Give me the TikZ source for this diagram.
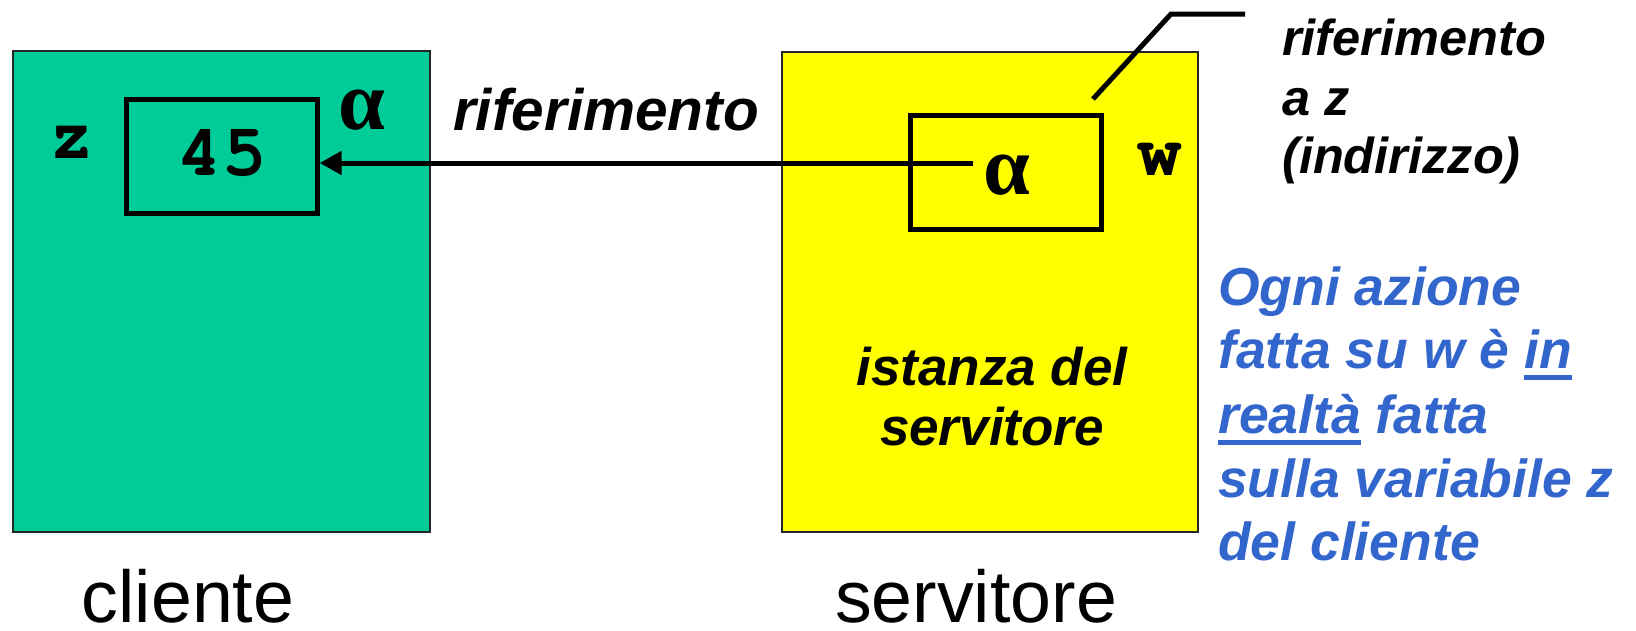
\documentclass[tikz,border=0pt]{standalone}
\usepackage{fontspec}
\setmainfont{Liberation Sans}
\newfontfamily\monofam{texgyrecursor}[Extension=.otf, UprightFont=*-regular, BoldFont=*-bold]
\newfontfamily\greekfam{Liberation Serif}
\usetikzlibrary{arrows.meta}
\definecolor{cgreen}{RGB}{0,204,153}
\definecolor{cyellow}{RGB}{255,255,0}
\definecolor{cblue}{RGB}{51,102,204}
\newcommand\myul[2]{\setbox0\hbox{#2}\rlap{\rule[#1]{\wd0}{5pt}}\box0\relax}
\tikzset{
  area/.style={draw=black!85, line width=2pt, inner sep=0pt},
  cell/.style={draw=black, line width=5pt, minimum width=191pt, minimum height=114pt, inner sep=0pt},
  monolbl/.style={anchor=base, inner sep=0pt, font=\fontsize{74}{80}\selectfont\monofam\bfseries},
  greeklbl/.style={anchor=base, inner sep=0pt, font=\fontsize{84}{90}\selectfont\greekfam\bfseries},
  notelbl/.style={anchor=base west, inner sep=0pt, font=\fontsize{50.5}{59}\selectfont\bfseries\itshape},
  bluelbl/.style={anchor=base west, inner sep=0pt, text=cblue, font=\fontsize{53.5}{64}\selectfont\bfseries\itshape},
  inlbl/.style={anchor=base, inner sep=0pt, font=\fontsize{53}{60}\selectfont\bfseries\itshape},
  caption/.style={anchor=base, inner sep=0pt, font=\fontsize{73.5}{80}\selectfont},
  thick line/.style={line width=5pt}
}
\begin{document}
\begin{tikzpicture}[x=1pt,y=-1pt]
\useasboundingbox (0,0) rectangle (1636,630);
% outer areas
\node[area, fill=cgreen, minimum width=417pt, minimum height=481pt] (clientbox) at (221.5,291.5) {};
\node[area, fill=cyellow, minimum width=416pt, minimum height=480pt] (servbox) at (990,292) {};
% inner cells
\node[cell] (zcell) at (221.7,156.7) {};
\node[cell] (wcell) at (1005.8,172.5) {};
% labels in cells
\node[monolbl] (zname) at (71.5,158) {z};
\node[monolbl] (zval) at (222,175) {45};
\node[monolbl] (wname) at (1160,175) {w};
\node[greeklbl] (zaddr) at (361.5,129) {α};
\node[greeklbl] (wval) at (1006.5,194) {α};
% reference arrow
\coordinate (refstart) at (973,163);
\draw[thick line, -{Triangle[length=22pt,width=23pt]}] (refstart) -- (refstart -| zcell.east);
\node[anchor=base, inner sep=0pt, font=\fontsize{58.5}{60}\selectfont\bfseries\itshape] (reflabel) at (606,130) {riferimento};
% leader line to note
\coordinate (leadA) at (1093,99);
\coordinate (leadB) at (1245,14);
\draw[thick line] (leadA) -- ++(78,-85) -- (leadB);
\node[notelbl] (note1) at (1282,55) {riferimento};
\node[notelbl] (note2) at (1282,115) {a z};
\node[notelbl] (note3) at (1282,173) {(indirizzo)};
% instance text
\node[inlbl] (inst1) at (992,385) {istanza del};
\node[inlbl] (inst2) at (992,445) {servitore};
% blue remark
\node[bluelbl] (blue1) at (1218,305) {Ogni azione};
\node[bluelbl] (blue2) at (1218,368) {fatta su w è \myul{-12pt}{in}};
\node[bluelbl] (blue3) at (1218,433) {\myul{-11.5pt}{realtà} fatta};
\node[bluelbl] (blue4) at (1218,497) {sulla variabile z};
\node[bluelbl] (blue5) at (1218,560) {del cliente};
% captions
\node[caption] (capc) at (188,622) {cliente};
\node[caption] (caps) at (976,622) {servitore};
\end{tikzpicture}
\end{document}
